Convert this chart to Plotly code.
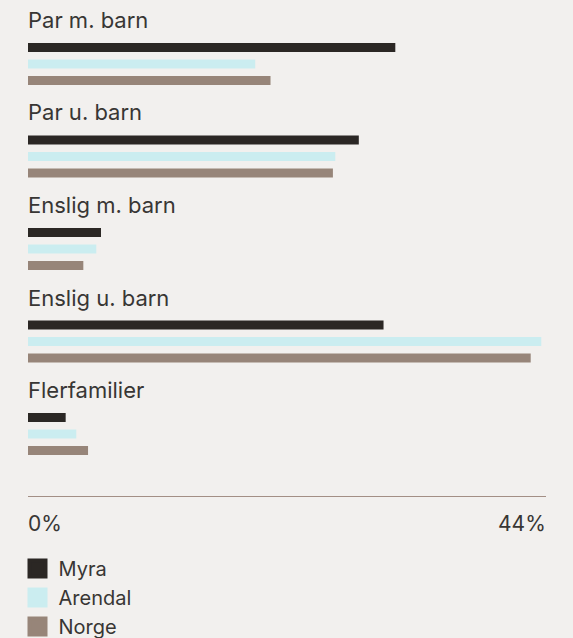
import plotly.graph_objects as go

categories = ["Par m. barn", "Par u. barn", "Enslig m. barn", "Enslig u. barn", "Flerfamilier"]
series_names = ["Myra", "Arendal", "Norge"]
myra = [31.2, 28.1, 6.2, 30.2, 3.2]
arendal = [19.3, 26.1, 5.8, 43.6, 4.1]
norge = [20.6, 25.9, 4.7, 42.7, 5.1]
tick_values = [0, 44]
tick_labels = ["0%", "44%"]

colors = ["#2b2724", "#cbedf0", "#978579"]
bg = "#f2f0ee"
text_color = "#383634"
font_family = "Inter, Roboto, sans-serif"

fig = go.Figure()
for name, vals, col in zip(series_names, [myra, arendal, norge], colors):
    fig.add_trace(go.Bar(
        x=vals, y=categories, orientation="h", name=name,
        marker=dict(color=col, line=dict(width=0)),
        showlegend=False, hoverinfo="x+name",
    ))
# legend entries
for name, col in zip(series_names, colors):
    fig.add_trace(go.Scatter(
        x=[None], y=[None], mode="markers", name=name,
        marker=dict(symbol="square", size=16, color=col, line=dict(color=col, width=4)),
        showlegend=True,
    ))

annotations = []
for c in categories:
    annotations.append(dict(
        x=0, xref="paper", y=c, yref="y", yshift=44,
        text=c, showarrow=False, xanchor="left", yanchor="middle", xshift=-2,
        font=dict(size=22, color=text_color, family=font_family),
    ))
for v, t in zip(tick_values, tick_labels):
    annotations.append(dict(
        x=v, xref="x", y=0, yref="paper", yshift=-27,
        text=t, showarrow=False,
        xshift=-2 if v == tick_values[0] else 2,
        xanchor="left" if v == tick_values[0] else "right", yanchor="middle",
        font=dict(size=21, color=text_color, family=font_family),
    ))

fig.update_layout(
    width=573, height=638,
    paper_bgcolor=bg, plot_bgcolor=bg,
    margin=dict(l=28, r=27, t=8, b=142, autoexpand=False),
    barmode="group", bargap=0.465, bargroupgap=0.45,
    xaxis=dict(range=[0, 44], showgrid=False, zeroline=False, showticklabels=False,
               showline=True, linecolor="#a38f85", linewidth=1, ticks="", fixedrange=True),
    yaxis=dict(categoryorder="array", categoryarray=categories,
               range=[4.67, -0.605], showgrid=False, zeroline=False,
               showticklabels=False, ticks="", fixedrange=True),
    annotations=annotations,
    legend=dict(
        xref="container", yref="container", x=16.5 / 573, y=1 - 549 / 638,
        xanchor="left", yanchor="top", orientation="v", itemwidth=32,
        font=dict(size=20, color=text_color, family=font_family),
        bgcolor="rgba(0,0,0,0)", tracegroupgap=0, itemclick=False,
    ),
    showlegend=True,
)

fig.write_html("out.html", config={"displayModeBar": False},
               post_script="document.body.style.margin='0';")
